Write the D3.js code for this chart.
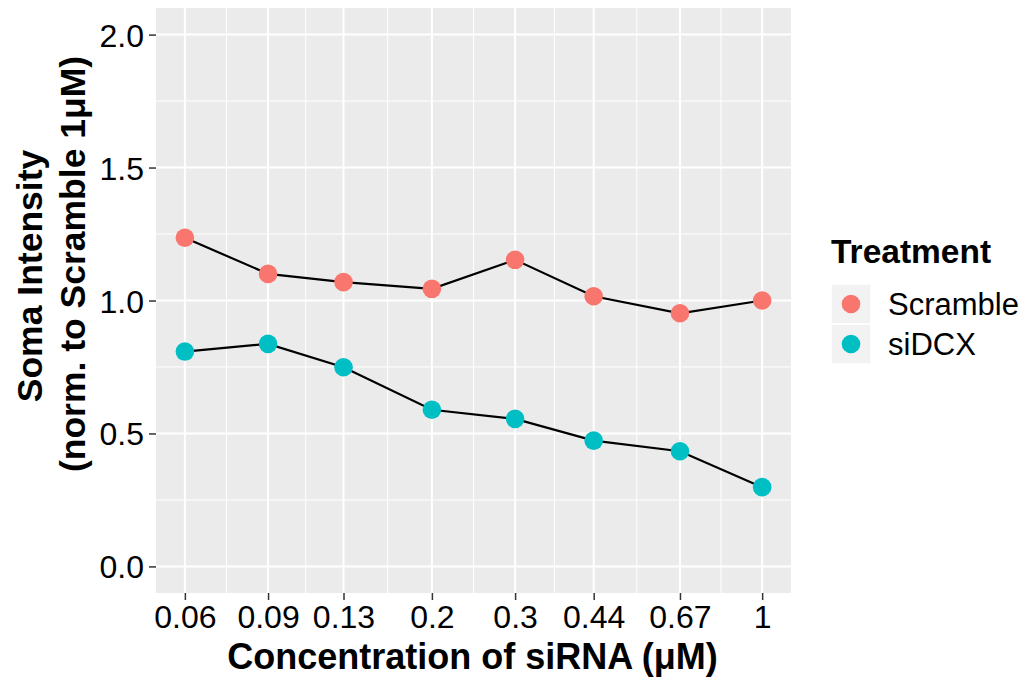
<!DOCTYPE html>
<html>
<head>
<meta charset="utf-8">
<script src="https://cdn.jsdelivr.net/npm/d3@7.9.0/dist/d3.min.js"></script>
<style>
  body { margin: 0; background: #fff; }
  text { font-family: "Liberation Sans", Arial, sans-serif; }
</style>
</head>
<body>
<svg id="chart" width="1028" height="683"></svg>
<script>
// data
const concentrations = [0.06, 0.09, 0.13, 0.2, 0.3, 0.44, 0.67, 1];
const tickLabels = ['0.06', '0.09', '0.13', '0.2', '0.3', '0.44', '0.67', '1'];
const scrambleValues = [1.236, 1.100, 1.069, 1.044, 1.153, 1.016, 0.952, 1.000];
const sidcxValues = [0.808, 0.837, 0.749, 0.589, 0.555, 0.473, 0.433, 0.298];
const yTicks = [0, 0.5, 1, 1.5, 2];
const yMinor = [0.25, 0.75, 1.25, 1.75];
const treatments = ['Scramble', 'siDCX'];
const colors = ['#F8766D', '#00BFC4'];

const series = [scrambleValues, sidcxValues].map((vals, i) => ({
  name: treatments[i],
  color: colors[i],
  points: concentrations.map((c, j) => ({ x: c, y: vals[j] }))
}));

// panel geometry
const P = { left: 156, right: 791, top: 8, bottom: 593 };

const svg = d3.select('#chart');

// ggplot-like 5% expansion on log axis
const lo = Math.log10(d3.min(concentrations)), hi = Math.log10(d3.max(concentrations));
const pad = 0.05 * (hi - lo);
const x = d3.scaleLog()
  .domain([Math.pow(10, lo - pad), Math.pow(10, hi + pad)])
  .range([P.left, P.right]);
const y = d3.scaleLinear()
  .domain([-0.1, 2.1])
  .range([P.bottom, P.top]);

// panel background
svg.append('rect')
  .attr('x', P.left).attr('y', P.top)
  .attr('width', P.right - P.left).attr('height', P.bottom - P.top)
  .attr('fill', '#ebebeb');

// minor x breaks: midpoints between majors in log space
const xMinor = d3.pairs(concentrations).map(([a, b]) => Math.sqrt(a * b));

const grid = svg.append('g');
grid.selectAll('line.ymin').data(yMinor).join('line')
  .attr('x1', P.left).attr('x2', P.right)
  .attr('y1', d => y(d)).attr('y2', d => y(d))
  .attr('stroke', '#fff').attr('stroke-width', 1);
grid.selectAll('line.xmin').data(xMinor).join('line')
  .attr('y1', P.top).attr('y2', P.bottom)
  .attr('x1', d => x(d)).attr('x2', d => x(d))
  .attr('stroke', '#fff').attr('stroke-width', 1);
grid.selectAll('line.ymaj').data(yTicks).join('line')
  .attr('x1', P.left).attr('x2', P.right)
  .attr('y1', d => y(d)).attr('y2', d => y(d))
  .attr('stroke', '#fff').attr('stroke-width', 2);
grid.selectAll('line.xmaj').data(concentrations).join('line')
  .attr('y1', P.top).attr('y2', P.bottom)
  .attr('x1', d => x(d)).attr('x2', d => x(d))
  .attr('stroke', '#fff').attr('stroke-width', 2);

// axes
const xAxis = svg.append('g')
  .attr('transform', `translate(0,${P.bottom})`)
  .call(d3.axisBottom(x).tickValues(concentrations)
    .tickFormat((d, i) => tickLabels[i]).tickSize(7).tickPadding(5));
const yAxis = svg.append('g')
  .attr('transform', `translate(${P.left},0)`)
  .call(d3.axisLeft(y).tickValues(yTicks)
    .tickFormat(d3.format('.1f')).tickSize(7).tickPadding(5));

[xAxis, yAxis].forEach(ax => {
  ax.select('.domain').remove();
  ax.selectAll('.tick line').attr('stroke', '#333').attr('stroke-width', 1.5);
  ax.selectAll('.tick text')
    .attr('fill', '#000')
    .style('font-size', '32px')
    .style('font-family', '"Liberation Sans", Arial, sans-serif');
});
yAxis.selectAll('.tick text').attr('dy', '0.36em');

// lines + points
const line = d3.line().x(d => x(d.x)).y(d => y(d.y));
series.forEach(s => {
  svg.append('path')
    .datum(s.points)
    .attr('d', line)
    .attr('fill', 'none')
    .attr('stroke', '#000')
    .attr('stroke-width', 2.2);
});
series.forEach(s => {
  svg.append('g').selectAll('circle').data(s.points).join('circle')
    .attr('cx', d => x(d.x)).attr('cy', d => y(d.y))
    .attr('r', 9.3)
    .attr('fill', s.color);
});

// axis titles
svg.append('text')
  .attr('x', (P.left + P.right) / 2 - 1).attr('y', 669)
  .attr('text-anchor', 'middle')
  .style('font-size', '36px').style('font-weight', 'bold')
  .text('Concentration of siRNA (μM)');

svg.append('text')
  .attr('transform', 'translate(42,276) rotate(-90)')
  .attr('text-anchor', 'middle')
  .style('font-size', '35.5px').style('font-weight', 'bold')
  .text('Soma Intensity');
svg.append('text')
  .attr('transform', 'translate(85,264) rotate(-90)')
  .attr('text-anchor', 'middle')
  .style('font-size', '35.5px').style('font-weight', 'bold')
  .text('(norm. to Scramble 1μM)');

// legend
const legend = svg.append('g').attr('transform', 'translate(831,0)');
legend.append('text')
  .attr('x', 0).attr('y', 263)
  .style('font-size', '33.5px').style('font-weight', 'bold')
  .text('Treatment');

const keyY = d3.scaleBand().domain(treatments).range([284, 364]);
const rows = legend.selectAll('g.row').data(series).join('g')
  .attr('transform', d => `translate(0,${keyY(d.name)})`);
rows.append('rect')
  .attr('width', 40).attr('height', keyY.bandwidth())
  .attr('fill', '#f2f2f2').attr('stroke', '#fff').attr('stroke-width', 1.5);
rows.append('circle')
  .attr('cx', 20).attr('cy', keyY.bandwidth() / 2)
  .attr('r', 9.3).attr('fill', d => d.color);
rows.append('text')
  .attr('x', 57).attr('y', keyY.bandwidth() / 2)
  .attr('dy', '0.36em')
  .style('font-size', '31px')
  .text(d => d.name);
</script>
</body>
</html>
